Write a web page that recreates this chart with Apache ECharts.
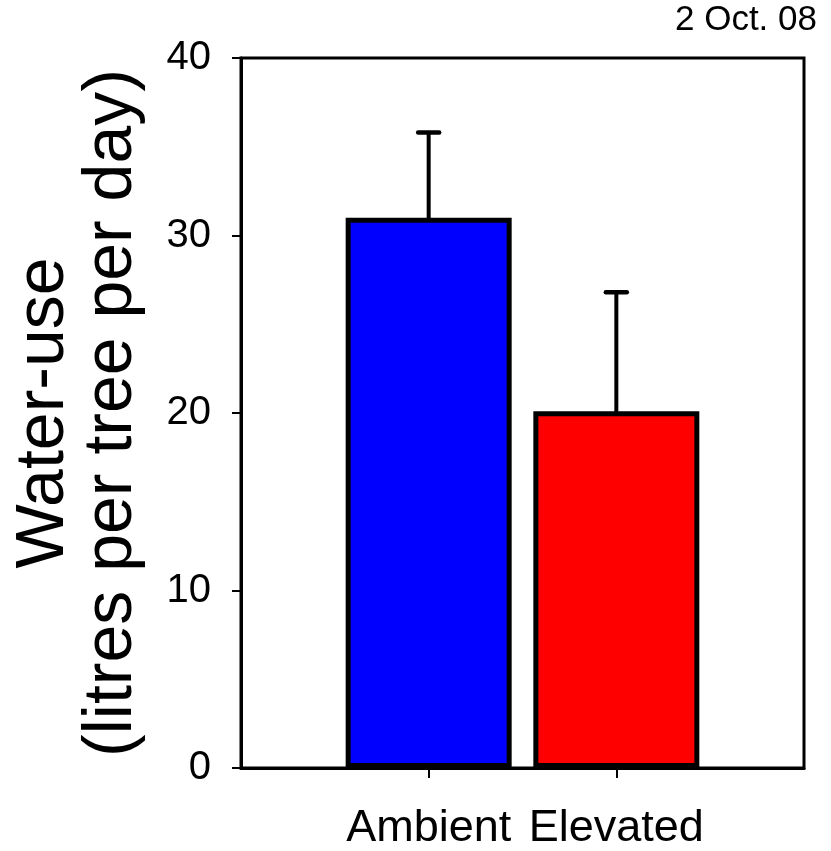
<!DOCTYPE html>
<html>
<head>
<meta charset="utf-8">
<script src="https://cdn.jsdelivr.net/npm/echarts@6/dist/echarts.min.js"></script>
<style>
  html, body { margin: 0; padding: 0; background: #fff; }
  #chart { width: 831px; height: 851px; }
</style>
</head>
<body>
<div id="chart"></div>
<script>
// Data
const categories = ['Ambient', 'Elevated']
const means      = [31, 20.1]
const upperErr   = [35.8, 26.8]      // top of each error bar
const barColors  = ['#0000ff', '#ff0000']
const yTicks     = [0, 10, 20, 30, 40]

const FONT = '"Liberation Sans", Arial, Helvetica, sans-serif'

// pad the category axis so the two bars sit at 1/3 and 2/3 of the frame
const axisCats = ['', ...categories, '']
const barData  = ['-', ...means.map((v, i) => ({ value: v, itemStyle: { color: barColors[i] } })), '-']
const errData  = categories.map((c, i) => [i + 1, means[i], upperErr[i]])

const chart = echarts.init(document.getElementById('chart'), null, { renderer: 'canvas' })

chart.setOption({
  backgroundColor: '#fff',
  animation: false,
  title: {
    text: '2 Oct. 08',
    right: 14, top: 3, padding: 0,
    textStyle: { fontFamily: FONT, fontSize: 35, fontWeight: 'normal', color: '#000' },
  },
  grid: {
    left: 241, right: 27, top: 58, bottom: 83,
    show: true, borderColor: '#000', borderWidth: 3, backgroundColor: 'transparent',
  },
  xAxis: {
    type: 'category',
    data: axisCats,
    boundaryGap: false,
    axisLine: { lineStyle: { color: '#000', width: 3 } },
    axisTick: {
      show: true, inside: false, length: 10,
      interval: (idx) => idx > 0 && idx < axisCats.length - 1,
      lineStyle: { color: '#000', width: 2 },
    },
    axisLabel: {
      interval: 0, margin: 38, color: '#000',
      fontFamily: FONT, fontSize: 45,
    },
    splitLine: { show: false },
  },
  yAxis: {
    type: 'value',
    min: yTicks[0], max: yTicks[yTicks.length - 1], interval: 10,
    name: 'Water-use\n(litres per tree per day)',
    nameLocation: 'middle',
    nameGap: 95,
    nameRotate: 90,
    nameTextStyle: { fontFamily: FONT, fontSize: 68, lineHeight: 68, color: '#000' },
    axisLine: { show: true, lineStyle: { color: '#000', width: 3 } },
    axisTick: { show: true, inside: false, length: 9, lineStyle: { color: '#000', width: 2 } },
    axisLabel: { margin: 30, color: '#000', fontFamily: FONT, fontSize: 40 },
    splitLine: { show: false },
  },
  series: [
    {
      type: 'bar',
      data: barData,
      barWidth: 166,
      itemStyle: { borderColor: '#000', borderWidth: 5 },
      z: 2,
    },
    {
      type: 'custom',
      data: errData,
      z: 3,
      renderItem: (params, api) => {
        const base = api.coord([api.value(0), api.value(1)])
        const top  = api.coord([api.value(0), api.value(2)])
        const half = 10.5
        return {
          type: 'group',
          children: [
            { type: 'line', shape: { x1: top[0], y1: base[1] + 2, x2: top[0], y2: top[1] },
              style: { stroke: '#000', lineWidth: 4 } },
            { type: 'line', shape: { x1: top[0] - half, y1: top[1], x2: top[0] + half, y2: top[1] },
              style: { stroke: '#000', lineWidth: 4.5, lineCap: 'round' } },
          ],
        }
      },
    },
  ],
})
</script>
</body>
</html>
